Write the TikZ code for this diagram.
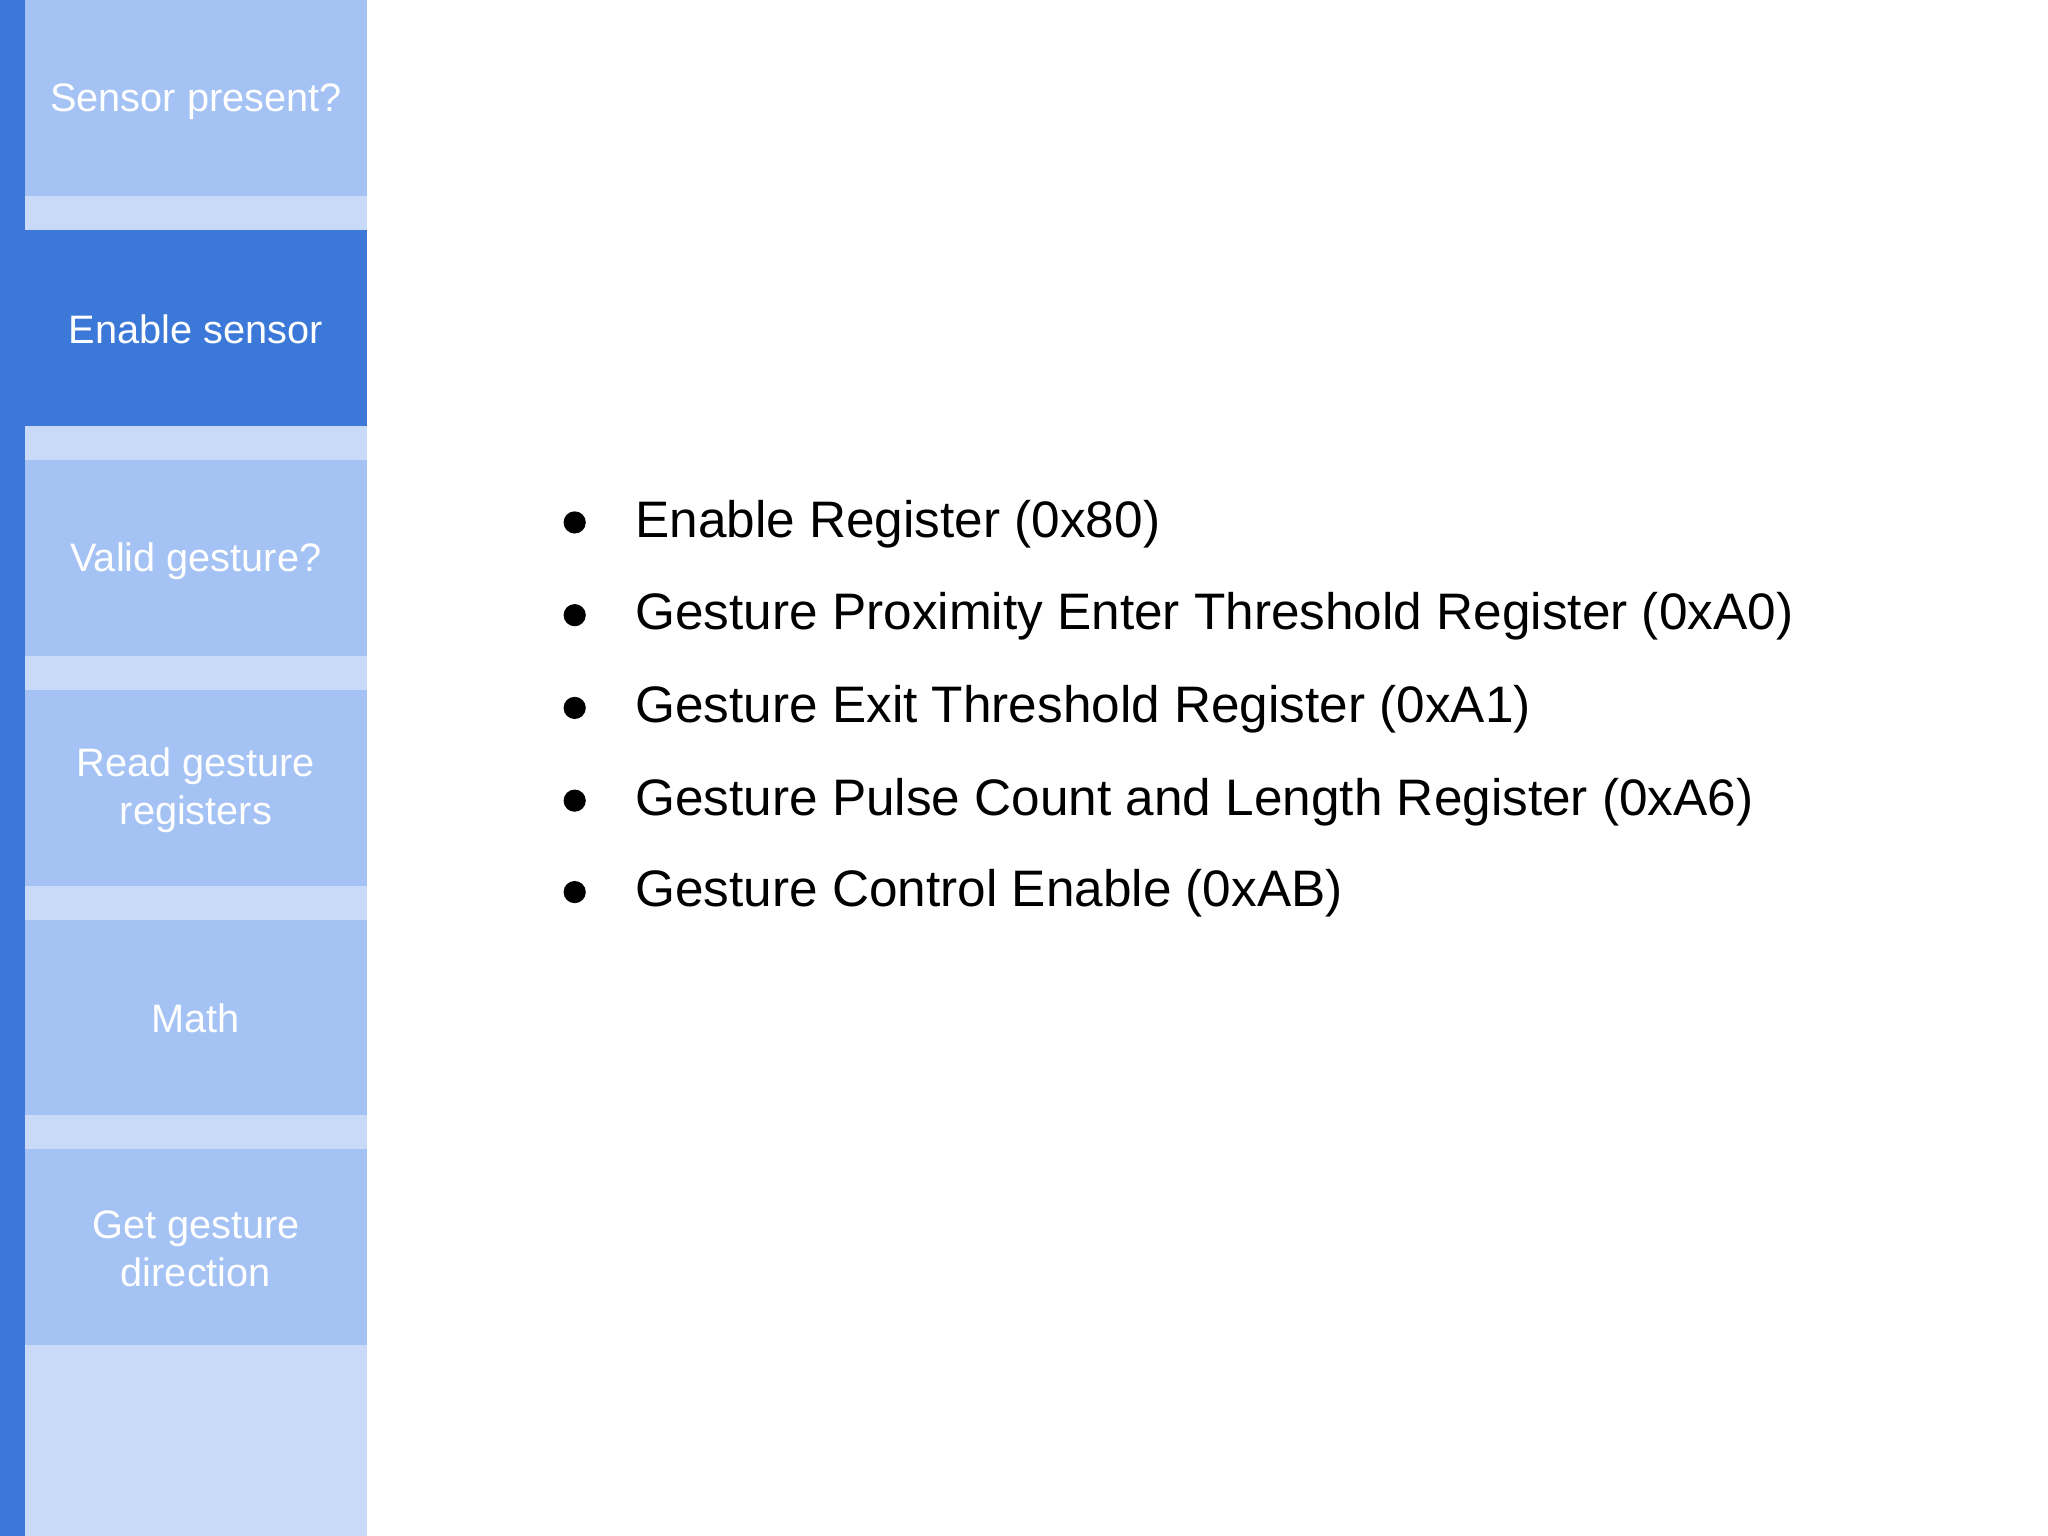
\documentclass[tikz,border=0pt]{standalone}
\usepackage{fontspec}
\setmainfont{Liberation Sans}
\definecolor{dark}{HTML}{3C78D8}
\definecolor{mid}{HTML}{A4C2F4}
\definecolor{pale}{HTML}{C9DAF8}
\begin{document}
\begin{tikzpicture}[x=0.013061cm,y=-0.013061cm,
  stepbox/.style={fill=mid,draw=none},
  steplabel/.style={text=white,font=\fontsize{11.3pt}{13.8pt}\selectfont,align=center},
  bul/.style={anchor=west,font=\fontsize{14.6pt}{17pt}\selectfont}]
\useasboundingbox (0,0) rectangle (1568,1176);
\fill[white] (0,0) rectangle (1568,1176);
\fill[dark] (0,0) rectangle (19,1176);
\fill[pale] (19,0) rectangle (281,1176);
\foreach \y/\c [count=\i] in {0/mid,176/dark,352/mid,528/mid,704/mid,880/mid}{
  \fill[\c] (19,\y) rectangle (281,\y+150);
}
\node[steplabel] (s1) at (150,78) {Sensor present?};
\node[steplabel] (s2) at (150,252) {Enable sensor};
\node[steplabel] (s3) at (150,430) {Valid gesture?};
\node[steplabel] (s4) at (150,605) {Read gesture\\registers};
\node[steplabel] (s5) at (150,780) {Math};
\node[steplabel] (s6) at (150,956) {Get gesture\\direction};
\foreach \y/\t [count=\i] in {398/Enable Register (0x80),469/Gesture Proximity Enter Threshold Register (0xA0),540/Gesture Exit Threshold Register (0xA1),611/Gesture Pulse Count and Length Register (0xA6),681/Gesture Control Enable (0xAB)}{
  \fill (440,\y+2) circle (8.5);
  \node[bul] (b\i) at (477,\y+3) {\t};
}
\end{tikzpicture}
\end{document}
